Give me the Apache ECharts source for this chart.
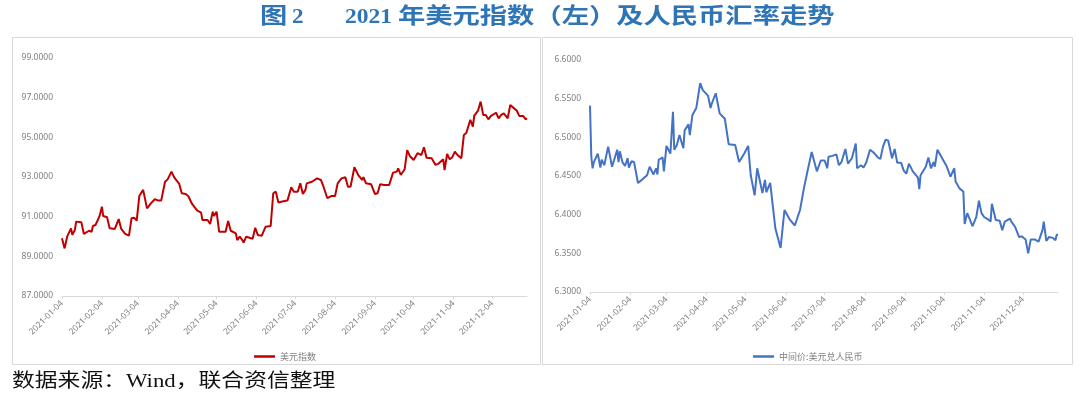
<!DOCTYPE html>
<html><head><meta charset="utf-8">
<script src="https://cdn.jsdelivr.net/npm/echarts@6/dist/echarts.min.js"></script>
<style>html,body{margin:0;padding:0;background:#fff}#c{width:1080px;height:398px}</style>
</head><body><div id="c"></div>
<script>
const usdName = '美元指数';
const cnyName = '中间价:美元兑人民币';
const xTickDates = ['2021-01-04','2021-02-04','2021-03-04','2021-04-04','2021-05-04','2021-06-04','2021-07-04','2021-08-04','2021-09-04','2021-10-04','2021-11-04','2021-12-04'];

const usdDates = ['2021-01-04','2021-01-06','2021-01-08','2021-01-11','2021-01-12','2021-01-14','2021-01-15','2021-01-19','2021-01-21','2021-01-25','2021-01-27','2021-01-28','2021-01-30',
'2021-02-02','2021-02-04','2021-02-05','2021-02-08','2021-02-10','2021-02-14','2021-02-17','2021-02-19','2021-02-22','2021-02-25','2021-02-27',
'2021-03-01','2021-03-03','2021-03-05','2021-03-08','2021-03-11','2021-03-14','2021-03-17','2021-03-20','2021-03-22','2021-03-25','2021-03-27','2021-03-30',
'2021-04-01','2021-04-05','2021-04-07','2021-04-10','2021-04-12','2021-04-15','2021-04-19','2021-04-22','2021-04-23','2021-04-27','2021-04-29',
'2021-05-01','2021-05-02','2021-05-04','2021-05-06','2021-05-11','2021-05-13','2021-05-15','2021-05-19','2021-05-20','2021-05-22','2021-05-24','2021-05-25','2021-05-27',
'2021-06-01','2021-06-03','2021-06-05','2021-06-08','2021-06-11','2021-06-15','2021-06-17','2021-06-19','2021-06-21','2021-06-24','2021-06-28',
'2021-07-01','2021-07-03','2021-07-06','2021-07-08','2021-07-10','2021-07-12','2021-07-13','2021-07-17','2021-07-21','2021-07-24','2021-07-26','2021-07-29',
'2021-08-01','2021-08-04','2021-08-06','2021-08-09','2021-08-12','2021-08-14','2021-08-16','2021-08-19','2021-08-22','2021-08-25','2021-08-26','2021-08-28',
'2021-09-01','2021-09-04','2021-09-06','2021-09-08','2021-09-11','2021-09-15','2021-09-18','2021-09-21','2021-09-22','2021-09-24','2021-09-27','2021-09-29',
'2021-10-01','2021-10-04','2021-10-07','2021-10-10','2021-10-12','2021-10-14','2021-10-18','2021-10-21','2021-10-23','2021-10-27','2021-10-28','2021-10-30',
'2021-11-01','2021-11-03','2021-11-05','2021-11-07','2021-11-10','2021-11-12','2021-11-14','2021-11-15','2021-11-17','2021-11-19','2021-11-20','2021-11-23','2021-11-25','2021-11-27','2021-11-29',
'2021-12-01','2021-12-03','2021-12-07','2021-12-09','2021-12-11','2021-12-13','2021-12-16','2021-12-18','2021-12-21','2021-12-23','2021-12-25','2021-12-28','2021-12-30','2021-12-31'];
const usdValues = [89.91,89.40,89.99,90.41,90.08,90.33,90.75,90.72,90.13,90.29,90.24,90.53,90.58,
91.00,91.50,91.03,90.97,90.41,90.38,90.88,90.38,90.13,90.04,90.92,
90.95,90.80,92.04,92.35,91.42,91.67,91.88,91.81,91.81,92.76,92.88,93.27,
92.99,92.65,92.18,92.14,92.04,91.64,91.30,91.20,90.83,90.83,90.63,
91.25,91.03,91.25,90.24,90.24,90.78,90.29,90.16,89.82,89.99,89.82,89.69,89.99,
89.89,90.44,90.08,90.03,90.49,90.53,92.18,92.26,91.71,91.76,91.81,
92.48,92.26,92.26,92.68,92.14,92.35,92.68,92.76,92.93,92.85,92.51,91.93,
92.04,92.04,92.68,92.93,92.99,92.51,92.51,93.49,93.10,92.85,92.99,92.68,
92.63,92.14,92.18,92.63,92.60,92.60,93.22,93.27,93.44,93.10,93.39,94.36,
94.06,93.86,94.20,94.11,94.50,93.97,93.94,93.61,93.66,93.89,93.35,94.16,
93.89,94.00,94.28,94.11,93.94,95.12,95.23,95.46,95.88,95.54,96.08,96.35,96.80,96.13,96.13,
95.91,96.08,96.24,95.96,96.13,96.21,95.96,96.63,96.46,96.35,96.08,96.08,95.91,95.96];

const cnyDates = ['2021-01-04','2021-01-05','2021-01-06','2021-01-07','2021-01-10','2021-01-12','2021-01-13','2021-01-15','2021-01-18','2021-01-21','2021-01-25','2021-01-26','2021-01-27','2021-01-29','2021-01-31',
'2021-02-02','2021-02-03','2021-02-05','2021-02-07','2021-02-10','2021-02-13','2021-02-17','2021-02-19','2021-02-22','2021-02-24','2021-02-25','2021-02-26',
'2021-03-01','2021-03-02','2021-03-04','2021-03-07','2021-03-09','2021-03-10','2021-03-12','2021-03-14','2021-03-17','2021-03-18','2021-03-21','2021-03-22','2021-03-24','2021-03-27','2021-03-28','2021-03-30',
'2021-04-01','2021-04-02','2021-04-05','2021-04-07','2021-04-08','2021-04-11','2021-04-14','2021-04-18','2021-04-21','2021-04-26','2021-04-29',
'2021-05-03','2021-05-06','2021-05-08','2021-05-11','2021-05-13','2021-05-17','2021-05-19','2021-05-20','2021-05-23','2021-05-27','2021-05-31',
'2021-06-03','2021-06-07','2021-06-11','2021-06-15','2021-06-18','2021-06-21','2021-06-24','2021-06-28',
'2021-07-01','2021-07-04','2021-07-06','2021-07-07','2021-07-10','2021-07-13','2021-07-15','2021-07-17','2021-07-20','2021-07-22','2021-07-25','2021-07-28','2021-07-29',
'2021-08-01','2021-08-03','2021-08-05','2021-08-08','2021-08-11','2021-08-14','2021-08-16','2021-08-18','2021-08-20','2021-08-22','2021-08-25','2021-08-27','2021-08-29',
'2021-09-01','2021-09-03','2021-09-05','2021-09-07','2021-09-10','2021-09-14','2021-09-15','2021-09-16','2021-09-20','2021-09-22','2021-09-24','2021-09-26','2021-09-27','2021-09-29',
'2021-10-02','2021-10-06','2021-10-09','2021-10-12','2021-10-13','2021-10-16','2021-10-19','2021-10-20','2021-10-22','2021-10-24','2021-10-26','2021-10-29','2021-10-31',
'2021-11-02','2021-11-04','2021-11-07','2021-11-09','2021-11-10','2021-11-13','2021-11-16','2021-11-18','2021-11-20','2021-11-24','2021-11-25','2021-11-28',
'2021-12-01','2021-12-03','2021-12-06','2021-12-08','2021-12-10','2021-12-13','2021-12-16','2021-12-19','2021-12-20','2021-12-22','2021-12-24','2021-12-27','2021-12-29','2021-12-30','2021-12-31'];
const cnyValues = [6.541,6.475,6.460,6.468,6.479,6.461,6.471,6.464,6.488,6.462,6.484,6.468,6.482,6.468,6.463,
6.473,6.461,6.469,6.468,6.441,6.445,6.451,6.462,6.452,6.460,6.452,6.471,
6.474,6.456,6.489,6.479,6.533,6.484,6.490,6.503,6.486,6.509,6.517,6.503,6.529,6.538,6.540,6.570,
6.561,6.563,6.554,6.538,6.544,6.557,6.531,6.524,6.491,6.490,6.468,
6.479,6.489,6.451,6.425,6.460,6.428,6.445,6.429,6.441,6.382,6.357,
6.406,6.394,6.386,6.406,6.434,6.458,6.481,6.456,
6.470,6.470,6.460,6.475,6.476,6.478,6.464,6.468,6.485,6.466,6.473,6.492,6.460,
6.464,6.461,6.467,6.484,6.480,6.474,6.472,6.488,6.497,6.496,6.473,6.485,6.467,
6.467,6.457,6.453,6.466,6.456,6.448,6.433,6.451,6.462,6.474,6.460,6.468,6.462,6.484,
6.475,6.463,6.449,6.460,6.443,6.434,6.430,6.388,6.402,6.394,6.385,6.397,6.418,
6.402,6.397,6.394,6.391,6.414,6.393,6.392,6.380,6.391,6.395,6.391,6.384,
6.371,6.372,6.368,6.350,6.368,6.368,6.365,6.380,6.391,6.366,6.371,6.370,6.367,6.374,6.374];

function ts(s){const p=s.split('-');return new Date(+p[0],+p[1]-1,+p[2]).getTime();}
function fmt(v){const d=new Date(v);const m=d.getMonth()+1,dd=d.getDate();return d.getFullYear()+'-'+(m<10?'0':'')+m+'-'+(dd<10?'0':'')+dd;}
const tickTs = xTickDates.map(ts);
const axisFont = {fontFamily:'"Noto Sans", sans-serif', fontSize:8.5, color:'#7f7f7f'};

function mkX(gi){
  return {type:'value', gridIndex:gi, min:ts('2021-01-04'), max:ts('2021-12-31'), scale:true,
    axisLine:{show:true, onZero:false, lineStyle:{color:'#d9d9d9', width:1}},
    axisTick:{show:true, customValues:tickTs, length:3, lineStyle:{color:'#d9d9d9'}},
    axisLabel:Object.assign({customValues:tickTs, rotate:45, formatter:fmt, margin:6, hideOverlap:false, showMinLabel:true, showMaxLabel:true}, axisFont),
    splitLine:{show:false}};
}
function mkY(gi,min,max,interval){
  return {type:'value', gridIndex:gi, min:min, max:max, interval:interval,
    axisLine:{show:false}, axisTick:{show:false}, splitLine:{show:false},
    axisLabel:Object.assign({formatter:v=>v.toFixed(4), margin:9}, axisFont)};
}
const legendText = {fontSize:9, color:'#7f7f7f', fontFamily:'"Noto Sans CJK SC", sans-serif'};
const titleFont = '"Liberation Serif", "Noto Sans CJK SC", serif';
const titleColor = '#2F75B5';

const chart = echarts.init(document.getElementById('c'), null, {renderer:'canvas'});
chart.setOption({
  animation:false,
  backgroundColor:'#fff',
  grid:[
    {left:62, right:553, top:58, bottom:102},
    {left:590, right:22, top:60, bottom:106}
  ],
  xAxis:[mkX(0), mkX(1)],
  yAxis:[mkY(0,87,99,2), mkY(1,6.3,6.6,0.05)],
  legend:[
    {data:[usdName], left:249, top:347, icon:'rect', itemWidth:21, itemHeight:2.5, textStyle:legendText},
    {data:[cnyName], left:748, top:347, icon:'rect', itemWidth:21, itemHeight:2.5, textStyle:legendText}
  ],
  series:[
    {name:usdName, type:'line', xAxisIndex:0, yAxisIndex:0, showSymbol:false, symbol:'none',
     lineStyle:{color:'#C00000', width:2}, itemStyle:{color:'#C00000'},
     data:usdDates.map((d,i)=>[ts(d), usdValues[i]])},
    {name:cnyName, type:'line', xAxisIndex:1, yAxisIndex:1, showSymbol:false, symbol:'none',
     lineStyle:{color:'#4472C4', width:2}, itemStyle:{color:'#4472C4'},
     data:cnyDates.map((d,i)=>[ts(d), cnyValues[i]])}
  ],
  graphic:[
    {type:'rect', shape:{x:12.5, y:37.5, width:528, height:327}, style:{fill:'none', stroke:'#d9d9d9', lineWidth:1}, z:-1},
    {type:'rect', shape:{x:542.5, y:37.5, width:530, height:327}, style:{fill:'none', stroke:'#d9d9d9', lineWidth:1}, z:-1},
    {type:'text', x:260, y:17, scaleX:1.24, style:{text:'图', fontSize:22, fontWeight:'bold', fontFamily:titleFont, fill:titleColor, verticalAlign:'middle', align:'left'}},
    {type:'text', x:292, y:17, scaleX:1.05, style:{text:'2', fontSize:22, fontWeight:'bold', fontFamily:titleFont, fill:titleColor, verticalAlign:'middle', align:'left'}},
    {type:'text', x:345, y:17, scaleX:1.07, style:{text:'2021', fontSize:22, fontWeight:'bold', fontFamily:titleFont, fill:titleColor, verticalAlign:'middle', align:'left'}},
    {type:'text', x:398, y:17, scaleX:1.24, style:{text:'年美元指数（左）及人民币汇率走势', fontSize:22, fontWeight:'bold', fontFamily:titleFont, fill:titleColor, verticalAlign:'middle', align:'left'}},
    {type:'text', x:12, y:382, scaleX:1.2, style:{text:'数据来源：Wind，联合资信整理', fontSize:19, fontFamily:titleFont, fill:'#111', verticalAlign:'middle', align:'left'}}
  ]
});
</script></body></html>
